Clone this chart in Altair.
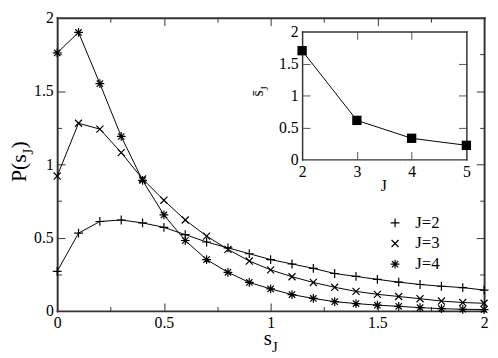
import altair as alt
import pandas as pd

# ---------------- data ----------------
s_vals = [0.0, 0.1, 0.2, 0.3, 0.4, 0.5, 0.6, 0.7, 0.8, 0.9, 1.0,
          1.1, 1.2, 1.3, 1.4, 1.5, 1.6, 1.7, 1.8, 1.9, 2.0]
p_j2 = [0.27, 0.53, 0.61, 0.62, 0.60, 0.57, 0.52, 0.47, 0.43, 0.39, 0.35,
        0.32, 0.29, 0.255, 0.235, 0.215, 0.196, 0.18, 0.168, 0.159, 0.142]
p_j3 = [0.92, 1.28, 1.24, 1.08, 0.90, 0.755, 0.62, 0.51, 0.42, 0.34, 0.28,
        0.233, 0.194, 0.161, 0.133, 0.113, 0.098, 0.083, 0.067, 0.057, 0.052]
p_j4 = [1.76, 1.90, 1.55, 1.19, 0.89, 0.655, 0.48, 0.35, 0.263, 0.194, 0.15,
        0.111, 0.085, 0.063, 0.05, 0.039, 0.031, 0.022, 0.015, 0.011, 0.009]
series_names = ["J=2", "J=3", "J=4"]

j_vals = [2, 3, 4, 5]
s_bar = [1.70, 0.61, 0.33, 0.22]

main_label_ticks = [0, 0.5, 1, 1.5, 2]
main_major_ticks = [0.5, 1, 1.5]
main_minor_ticks = [0.25, 0.75, 1.25, 1.75]
inset_x_labels = [2, 3, 4, 5]
inset_x_ticks = [3, 4]
inset_y_labels = [0, 0.5, 1, 1.5, 2]
inset_y_ticks = [0.5, 1, 1.5]

# ---------------- layout ----------------
W, H = 434, 298
INSET_X = [249, 416]
INSET_Y = [144, 14]
FONT = "'Liberation Serif', 'Times New Roman', 'DejaVu Serif', serif"
FRAME = "#333333"
TICK = "#333333"
ITICK = "#555555"

rows = []
for name, vals in zip(series_names, [p_j2, p_j3, p_j4]):
    for s, p in zip(s_vals, vals):
        rows.append({"s": s, "p": p, "series": name})
main_df = pd.DataFrame(rows)
inset_df = pd.DataFrame({"J": j_vals, "sbar": s_bar})
one_df = pd.DataFrame({"k": [0]})

xs_main = alt.Scale(domain=[0, 2], nice=False, zero=False)
ys_main = alt.Scale(domain=[0, 2], nice=False, zero=False)
xs_inset = alt.Scale(domain=[2, 5], range=INSET_X, nice=False, zero=False)
ys_inset = alt.Scale(domain=[0, 2], range=INSET_Y, nice=False, zero=False)


def label_axis(orient, values, offset=0, dw=2.0):
    return alt.Axis(orient=orient, values=values, format="~g", offset=offset,
                    labels=True, labelFont=FONT, labelFontSize=16,
                    labelColor="black", labelPadding=4, labelFlush=False,
                    labelOverlap=False, ticks=False, tickSize=0,
                    domain=True, domainColor=FRAME, domainWidth=dw,
                    domainCap="square", grid=False, title=None)


def tick_axis(orient, values, size, offset, color=TICK, domain=False, dw=2.0):
    kw = dict(orient=orient, values=values, offset=offset, labels=False,
              ticks=True, tickSize=size, tickColor=color, tickWidth=1,
              grid=False, title=None, domain=domain)
    if domain:
        kw.update(domainColor=FRAME, domainWidth=dw, domainCap="square")
    return alt.Axis(**kw)


plus_path = "M-1,0H1M0,-1V1"
x_path = "M-0.8,-0.8L0.8,0.8M-0.8,0.8L0.8,-0.8"
star_path = "M-1,0H1M0,-1V1M-0.72,-0.72L0.72,0.72M-0.72,0.72L0.72,-0.72"

layers = []

# main curves with labelled bottom / left axes
layers.append(
    alt.Chart(main_df).mark_line(color="black", strokeWidth=1).encode(
        x=alt.X("s:Q", scale=xs_main, axis=label_axis("bottom", main_label_ticks)),
        y=alt.Y("p:Q", scale=ys_main, axis=label_axis("left", main_label_ticks)),
        detail="series:N",
    )
)

# markers + inward major ticks (bottom, left)
layers.append(
    alt.Chart(main_df).mark_point(filled=False, color="black", size=80, opacity=1).encode(
        x=alt.X("s:Q", scale=xs_main, axis=tick_axis("top", main_major_ticks, 8, -H)),
        y=alt.Y("p:Q", scale=ys_main, axis=tick_axis("right", main_major_ticks, 8, -W)),
        shape=alt.Shape(
            "series:N",
            scale=alt.Scale(domain=series_names, range=[plus_path, x_path, star_path]),
            legend=alt.Legend(title=None, orient="none", legendX=335, legendY=200,
                              labelFont=FONT, labelFontSize=17, labelColor="black",
                              symbolSize=80, symbolStrokeColor="black",
                              symbolStrokeWidth=1.3, labelOffset=12, rowPadding=3,
                              padding=0),
        ),
        strokeWidth=alt.StrokeWidth(
            "series:N",
            scale=alt.Scale(domain=series_names, range=[1.2, 1.2, 1.8]),
            legend=None,
        ),
    )
)

# inward minor ticks (bottom, left)
layers.append(
    alt.Chart(main_df).mark_point(opacity=0).encode(
        x=alt.X("s:Q", scale=xs_main, axis=tick_axis("top", main_minor_ticks, 4.5, -H)),
        y=alt.Y("p:Q", scale=ys_main, axis=tick_axis("right", main_minor_ticks, 4.5, -W)),
    )
)
# top / right frame with inward major ticks
layers.append(
    alt.Chart(main_df).mark_point(opacity=0).encode(
        x=alt.X("s:Q", scale=xs_main,
                axis=tick_axis("bottom", main_major_ticks, 8, -H, domain=True)),
        y=alt.Y("p:Q", scale=ys_main,
                axis=tick_axis("left", main_major_ticks, 8, -W, domain=True)),
    )
)
# top / right inward minor ticks
layers.append(
    alt.Chart(main_df).mark_point(opacity=0).encode(
        x=alt.X("s:Q", scale=xs_main, axis=tick_axis("bottom", main_minor_ticks, 4.5, -H)),
        y=alt.Y("p:Q", scale=ys_main, axis=tick_axis("left", main_minor_ticks, 4.5, -W)),
    )
)

# ---------------- inset ----------------
layers.append(
    alt.Chart(inset_df).mark_line(color="black", strokeWidth=1).encode(
        x=alt.X("J:Q", scale=xs_inset,
                axis=label_axis("bottom", inset_x_labels, offset=-(H - INSET_Y[0]), dw=1.5)),
        y=alt.Y("sbar:Q", scale=ys_inset,
                axis=label_axis("left", inset_y_labels, offset=-INSET_X[0], dw=1.5)),
    )
)
layers.append(
    alt.Chart(inset_df).mark_square(color="black", size=90, opacity=1).encode(
        x=alt.X("J:Q", scale=xs_inset,
                axis=tick_axis("top", inset_x_ticks, 8, -INSET_Y[0], color=ITICK)),
        y=alt.Y("sbar:Q", scale=ys_inset,
                axis=tick_axis("right", inset_y_ticks, 8, INSET_X[0] - W, color=ITICK)),
    )
)
layers.append(
    alt.Chart(inset_df).mark_point(opacity=0).encode(
        x=alt.X("J:Q", scale=xs_inset,
                axis=tick_axis("bottom", inset_x_ticks, 8, INSET_Y[1] - H,
                               color=ITICK, domain=True, dw=1.5)),
        y=alt.Y("sbar:Q", scale=ys_inset,
                axis=tick_axis("left", inset_y_ticks, 8, -INSET_X[1],
                               color=ITICK, domain=True, dw=1.5)),
    )
)


# ---------------- titles with subscripts ----------------
def txt(s, x, y, size, angle=0, align="left"):
    return alt.Chart(one_df).mark_text(
        text=s, font=FONT, fontSize=size, angle=angle, align=align,
        baseline="alphabetic", color="black"
    ).encode(x=alt.value(x), y=alt.value(y))


# y title P(s_J)
layers.append(txt("P(s", -32, 167, 22, angle=270))
layers.append(txt("J", -25, 139, 15, angle=270))
layers.append(txt(")", -32, 133, 22, angle=270))
# x title s_J
layers.append(txt("s", 210, 333, 21))
layers.append(txt("J", 218.5, 340, 15))
# inset titles
layers.append(txt("J", 332, 176, 16, align="center"))
layers.append(txt("s\u0304", 209, 80, 16, angle=270))
layers.append(txt("J", 214, 74, 11, angle=270))

chart = (
    alt.layer(*layers)
    .resolve_scale(x="independent", y="independent")
    .properties(
        width=W, height=H,
        padding={"left": 50, "top": 7, "right": 6, "bottom": 45},
        autosize=alt.AutoSizeParams(type="none"),
        background="white",
    )
    .configure_view(stroke=None)
)

chart.save("out.html", embed_options={"renderer": "svg", "actions": False})
